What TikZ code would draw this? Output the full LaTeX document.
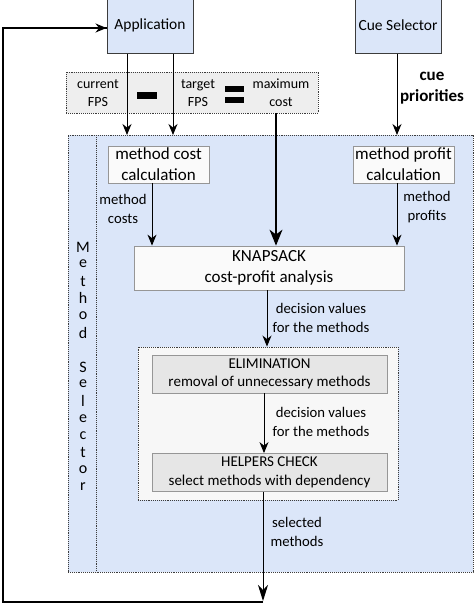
\documentclass[tikz,border=0pt]{standalone}
\usepackage{fontspec}
\setmainfont{Carlito}
\usetikzlibrary{arrows.meta}
\definecolor{selblue}{RGB}{219,230,249}
\definecolor{formgray}{RGB}{238,238,238}
\definecolor{boxgray}{RGB}{230,230,230}
\definecolor{boxwhite}{RGB}{250,250,250}
\definecolor{dotbox}{RGB}{247,247,247}
\definecolor{edgegray}{RGB}{150,150,150}
\definecolor{darkedge}{RGB}{60,60,60}
\begin{document}
\begin{tikzpicture}[x=1pt,y=-1pt,
  topbox/.style={draw=darkedge, line width=1pt, fill=selblue, minimum width=86pt, minimum height=56pt, inner sep=0pt, font=\fontsize{15.5}{18}\selectfont},
  calcbox/.style={draw=edgegray, line width=0.8pt, fill=boxwhite, minimum width=101pt, minimum height=37pt, inner sep=0pt, align=center, font=\fontsize{17}{21}\selectfont},
  grbox/.style={draw=edgegray, line width=0.8pt, fill=boxgray, minimum width=235pt, minimum height=38pt, inner sep=0pt, align=center, font=\fontsize{15}{18.5}\selectfont},
  dotframe/.style={draw=darkedge, densely dotted, line width=0.9pt, inner sep=0pt},
  lbl/.style={align=center, inner sep=0pt, font=\fontsize{14.7}{18.5}\selectfont},
  formtxt/.style={align=center, inner sep=0pt, font=\fontsize{14}{18}\selectfont},
  arr/.style={line width=1pt, -{Stealth[length=11pt,width=9pt,inset=3.5pt]}},
  bigarr/.style={line width=1.2pt, -{Stealth[length=16pt,width=13pt,inset=5pt]}},
]
\useasboundingbox (0,0) rectangle (474,603);

% top boxes
\node[topbox] (app) at (150,25) {Application};
\node[topbox] (cue) at (398,25) {Cue Selector};

% formula box
\node[dotframe, fill=formgray, minimum width=252pt, minimum height=41pt] (form) at (192,92.5) {};
\node[formtxt] (cur) at (98,93) {current\\FPS};
\node[formtxt] (tgt) at (198,93) {target\\FPS};
\node[formtxt] (maxc) at (281,93) {maximum\\cost};
\fill (137,92) rectangle (157,98.5);
\fill (225,86) rectangle (244,92);
\fill (225,97) rectangle (244,103);

% cue priorities
\node[align=center, inner sep=0pt, font=\bfseries\fontsize{17}{20.5}\selectfont] (prio) at (432,88) {cue\\priorities};

% method selector frame
\node[dotframe, fill=selblue, minimum width=405pt, minimum height=437pt] (sel) at (270.5,353.5) {};
\coordinate (divtop) at (96,135);
\coordinate (divbot) at (96,572);
\draw[darkedge, densely dotted, line width=0.9pt] (divtop) -- (divbot);
\foreach \ch [count=\i from 0] in {M,e,t,h,o,d,{},S,e,l,e,c,t,o,r}{
  \node[inner sep=0pt, font=\fontsize{16}{16}\selectfont] (ms\i) at (83,{247+17.14*\i}) {\ch};
}

% calculation boxes
\node[calcbox] (mcost) at (158.5,164.5) {method cost\\calculation};
\node[calcbox] (mprof) at (403.5,164.5) {method profit\\calculation};

% knapsack
\node[draw=edgegray, line width=0.8pt, fill=boxwhite, minimum width=270pt, minimum height=44pt, inner sep=0pt, align=center, font=\fontsize{17}{21}\selectfont] (knap) at (269,268) {KNAPSACK\\cost-profit analysis};

% dotted inner frame
\node[dotframe, fill=dotbox, minimum width=260pt, minimum height=153pt] (inner) at (268,423.5) {};
\node[grbox] (elim) at (269.5,374) {ELIMINATION\\removal of unnecessary methods};
\node[grbox] (help) at (269.5,472.5) {HELPERS CHECK\\select methods with dependency};

% labels
\node[lbl] (lcost) at (123,209) {method\\costs};
\node[lbl] (lprof) at (427,207) {method\\profits};
\node[lbl] (ldec1) at (321,318) {decision values\\for the methods};
\node[lbl] (ldec2) at (321,422) {decision values\\for the methods};
\node[lbl] (lsel) at (297,532) {selected\\methods};

% connectors
\draw[arr] (app.south -| 127,0) -- (127,135);
\draw[arr] (app.south -| 173,0) -- (173,135);
\draw[arr] (cue.south -| 397,0) -- (397,135);
\draw[bigarr] (form.south -| 276,0) -- (knap.north -| 276,0);
\draw[arr] (mcost.south -| 152,0) -- (knap.north -| 152,0);
\draw[arr] (mprof.south -| 397,0) -- (knap.north -| 397,0);
\draw[arr] (knap.south -| 267,0) -- (inner.north -| 267,0);
\draw[arr] (elim.south -| 264,0) -- (help.north -| 264,0);
\coordinate (bot) at (263,601);
\coordinate (corner) at (3,602);
\draw[line width=1pt, -{Stealth[length=16pt,width=10pt,inset=5pt]}] (help.south -| 263,0) -- (bot);
\draw[line width=2pt] (263,602) -- (corner) |- ([yshift=-3pt]app.west);
\draw[arr] ([yshift=-3pt,xshift=-20pt]app.west) -- ([yshift=-3pt]app.west);
\end{tikzpicture}
\end{document}
